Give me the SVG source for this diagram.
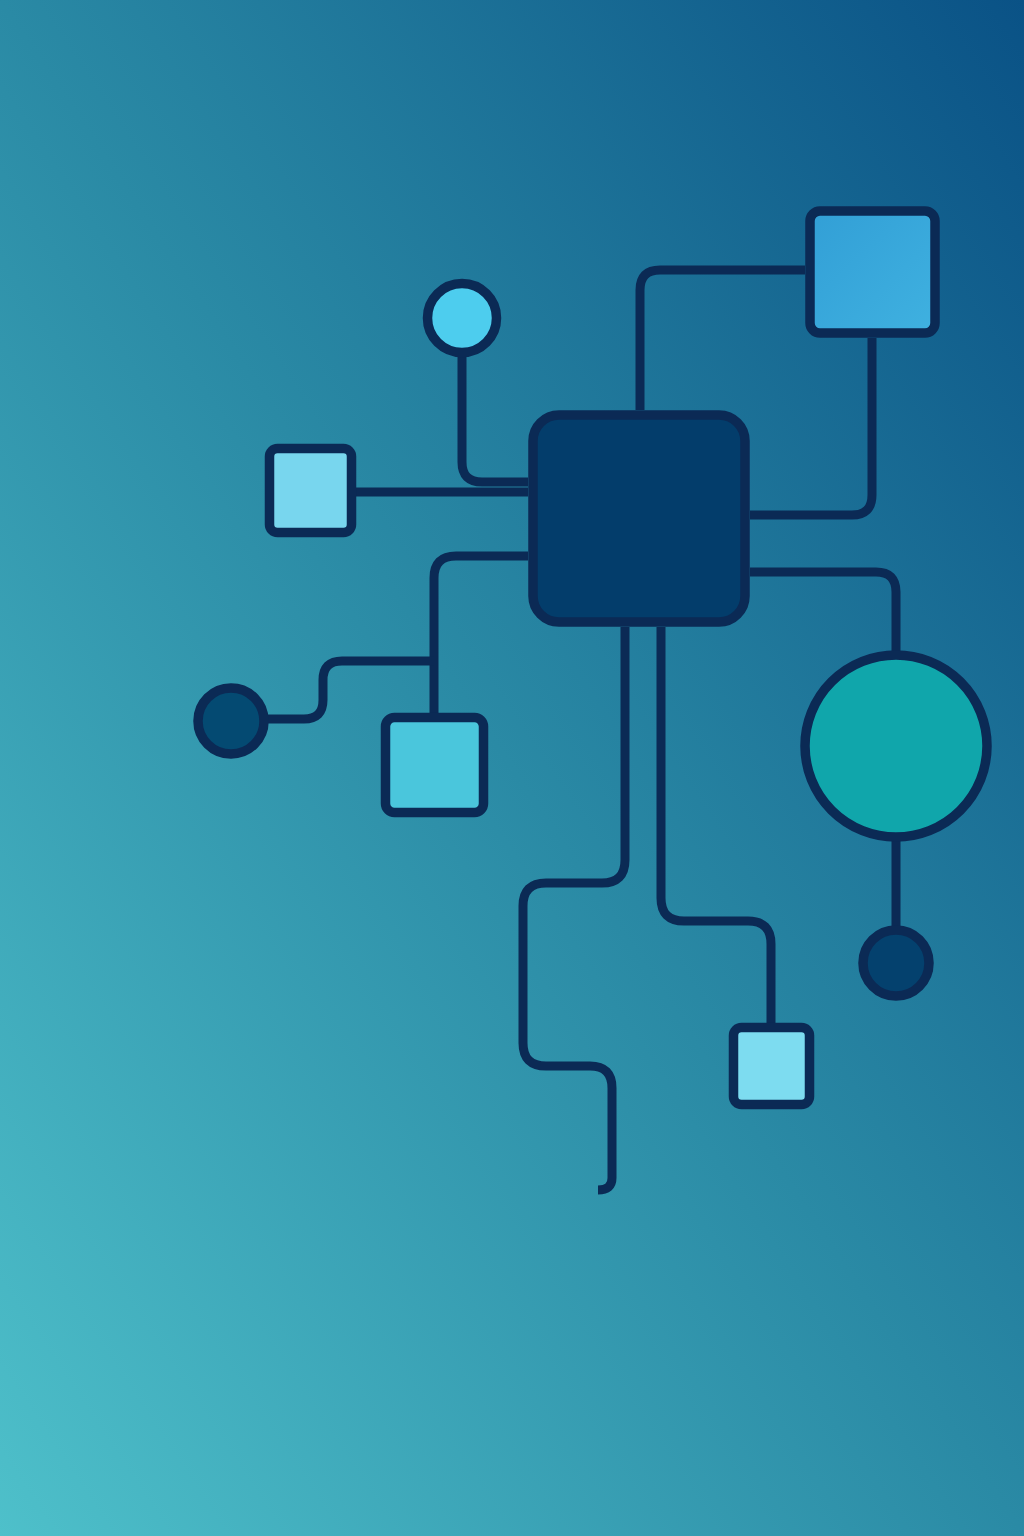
<svg xmlns="http://www.w3.org/2000/svg" width="1024" height="1536" viewBox="0 0 1024 1536">
  <defs>
    <linearGradient id="bg" gradientUnits="userSpaceOnUse" x1="1024" y1="0" x2="-394" y2="946">
      <stop offset="0" stop-color="#0a5286"/>
      <stop offset="0.5" stop-color="#2a8aa5"/>
      <stop offset="1" stop-color="#4ec0ca"/>
    </linearGradient>
    <linearGradient id="tr" x1="0" y1="0" x2="1" y2="1">
      <stop offset="0" stop-color="#329fd6"/>
      <stop offset="1" stop-color="#3fb1e0"/>
    </linearGradient>
    <style>
      .node { stroke: #0b2a55; stroke-width: 9.5; }
      .wire { fill: none; stroke: #0b2a55; stroke-width: 9; stroke-linecap: butt; stroke-linejoin: round; }
    </style>
  </defs>
  <rect width="1024" height="1536" fill="url(#bg)"/>

  <g id="connectors">
    <path class="wire" d="M462,356 V462 Q462,482 482,482 H528"/>
    <path class="wire" d="M355,492 H528"/>
    <path class="wire" d="M640,410 V290 Q640,270 660,270 H805"/>
    <path class="wire" d="M872,338 V495 Q872,515 852,515 H750"/>
    <path class="wire" d="M750,572 H876 Q896,572 896,592 V652"/>
    <path class="wire" d="M896,840 V928"/>
    <path class="wire" d="M528,556 H456 Q434,556 434,578 V713"/>
    <path class="wire" d="M434,661 H342 Q323,661 323,680 V700 Q323,719 304,719 H267"/>
    <path class="wire" d="M625,627 V860 Q625,883 602,883 H546 Q523,883 523,906 V1043 Q523,1066 546,1066 H590 Q612,1066 612,1088 V1178 Q612,1190 598,1190"/>
    <path class="wire" d="M661,627 V898 Q661,921 684,921 H748 Q771,921 771,944 V1023"/>
  </g>

  <g id="hub">
    <rect class="node" x="533" y="415" width="212" height="207" rx="26" fill="#033d6b"/>
  </g>
  <g id="square-top-right">
    <rect class="node" x="810" y="211" width="125" height="122" rx="10" fill="url(#tr)"/>
  </g>
  <g id="circle-top">
    <circle class="node" cx="462" cy="318" r="34.5" fill="#4dcdee"/>
  </g>
  <g id="square-left">
    <rect class="node" x="269.5" y="448.5" width="82" height="84" rx="8" fill="#78d6ee"/>
  </g>
  <g id="circle-left">
    <circle class="node" cx="231" cy="721" r="33" fill="#044a72"/>
  </g>
  <g id="square-mid-left">
    <rect class="node" x="385.5" y="717.5" width="98" height="95" rx="9" fill="#4ac6dc"/>
  </g>
  <g id="circle-big">
    <circle class="node" cx="896" cy="746" r="91" fill="#10a6ab" stroke-width="10"/>
  </g>
  <g id="circle-bottom-right">
    <circle class="node" cx="896" cy="963" r="33" fill="#04416e"/>
  </g>
  <g id="square-bottom">
    <rect class="node" x="733.5" y="1027.5" width="76" height="77" rx="8" fill="#7ddcf0"/>
  </g>
</svg>
